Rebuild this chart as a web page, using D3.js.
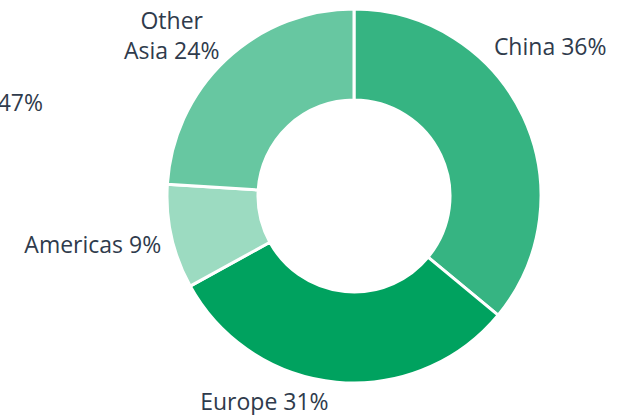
<!DOCTYPE html>
<html>
<head>
<meta charset="utf-8">
<script src="https://cdn.jsdelivr.net/npm/d3@7"></script>
<style>
    body { margin: 0; background: #fff; }
    text { font-family: "Open Sans", sans-serif; font-size: 23px; fill: #2f3b4c; }
</style>
</head>
<body>
<div id="chart"></div>
<script>
// --- Data ---
const regions = ["China", "Europe", "Americas", "Other Asia"];
const shares = [36, 31, 9, 24];
const colors = ["#36b482", "#00a25f", "#9cdbc1", "#67c7a1"];
// label that sits cut off at the left edge of the picture
const strayLabels = ["47%"];

const width = 621, height = 415;
const cx = 354, cy = 196;
const outerR = 187, innerR = 96, labelR = 240;

// manual nudges so labels sit where the original put them (layout only)
const labelNudge = [[-21, -39], [-67, -25], [-27, 5], [-18, 8]];
const labelLines = [["China 36%"], ["Europe 31%"], ["Americas 9%"], ["Other", "Asia 24%"]];

const data = regions.map((r, i) => ({ region: r, value: shares[i] }));

const svg = d3.select("#chart")
    .append("svg")
    .attr("width", width)
    .attr("height", height);

const g = svg.append("g")
    .attr("transform", `translate(${cx},${cy})`);

const pie = d3.pie()
    .value(d => d.value)
    .sort(null);

const arc = d3.arc()
    .innerRadius(innerR)
    .outerRadius(outerR);

const labelArc = d3.arc()
    .innerRadius(labelR)
    .outerRadius(labelR);

const arcs = pie(data);

g.selectAll("path.slice")
    .data(arcs)
    .enter()
    .append("path")
    .attr("class", "slice")
    .attr("d", arc)
    .attr("fill", (d, i) => colors[i])
    .attr("stroke", "#fff")
    .attr("stroke-width", 3);

const labels = g.selectAll("text.label")
    .data(arcs)
    .enter()
    .append("text")
    .attr("class", "label")
    .attr("text-anchor", "middle")
    .attr("transform", (d, i) => {
        const [x, y] = labelArc.centroid(d);
        return `translate(${x + labelNudge[i][0]},${y + labelNudge[i][1]})`;
    });

labels.each(function(d, i) {
    const t = d3.select(this);
    labelLines[i].forEach((line, j) => {
        t.append("tspan")
            .attr("x", 0)
            .attr("dy", j === 0 ? 0 : 30)
            .text(line);
    });
});

// cut-off label on the left
svg.selectAll("text.stray")
    .data(strayLabels)
    .enter()
    .append("text")
    .attr("class", "stray")
    .attr("text-anchor", "end")
    .attr("x", 43)
    .attr("y", 111)
    .text(d => d);
</script>
</body>
</html>
